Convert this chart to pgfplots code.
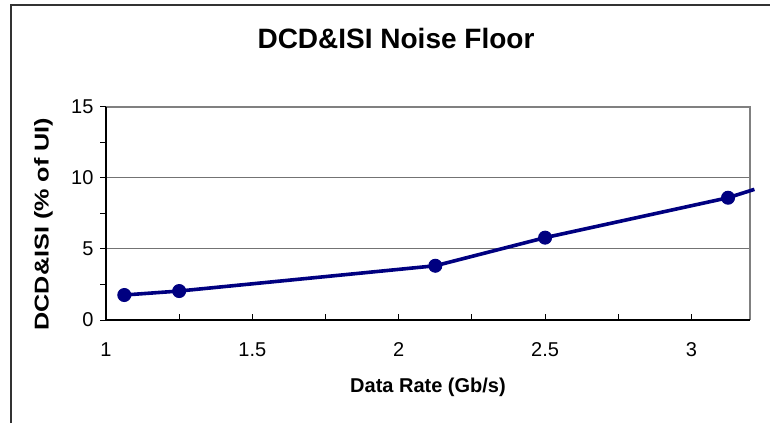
\documentclass[border=0pt]{standalone}
\usepackage{fontspec}
\setmainfont{Liberation Sans}
\usepackage{pgfplots}
\pgfplotsset{compat=1.18}
\begin{document}
\begin{tikzpicture}[x=1pt,y=1pt]
\useasboundingbox (0,0) rectangle (770,423);
\fill[white] (0,0) rectangle (770,423);
\draw[line width=1.8pt, color=black!80] (11,0) -- (11,418) -- (771,418);
\begin{axis}[
  at={(106pt,103pt)}, anchor=south west,
  width=644pt, height=213pt, scale only axis,
  xmin=1, xmax=3.2, ymin=0, ymax=15,
  xtick={1,1.5,2,2.5,3}, minor xtick={1.25,1.75,2.25,2.75},
  ytick={0,5,10,15}, minor ytick={2.5,7.5,12.5},
  ymajorgrids, grid style={black!55, line width=1pt},
  axis line style={draw=none},
  tick pos=left,
  major tick length=6pt, minor tick length=6pt,
  tick style={black, line width=1pt},
  y tick style={xshift=-6pt},
  /pgf/number format/assume math mode=true,
  tick label style={font=\fontsize{20}{24}\selectfont},
  xticklabel style={yshift=-19pt},
  yticklabel style={xshift=-9pt},
  title={DCD\&ISI Noise Floor},
  title style={at={(axis description cs:0.4503,1.293)}, anchor=center, font=\bfseries\fontsize{28}{32}\selectfont, inner sep=0pt},
  xlabel={Data Rate (Gb/s)},
  xlabel style={at={(axis description cs:0.5,-0.315)}, anchor=center, font=\bfseries\fontsize{20}{24}\selectfont, inner sep=0pt},
  ylabel={\scalebox{1.26}[1]{DCD\&ISI (\% of UI)}},
  ylabel style={at={(axis description cs:-0.097,0.45)}, anchor=center, rotate=0, font=\bfseries\fontsize{20}{24}\selectfont, inner sep=0pt},
  clip=false,
]
\draw[black!50, line width=2pt] (rel axis cs:0,1) -- (rel axis cs:1,1) -- (rel axis cs:1,0);
\draw[black, line width=1.5pt] (rel axis cs:0,1) -- (rel axis cs:0,0) -- (rel axis cs:1,0);
\addplot[color={rgb,255:red,0;green,0;blue,128}, line width=3.6pt, no marks] coordinates {
 (3.125,8.61) (3.215,9.2)
};
\addplot[color={rgb,255:red,0;green,0;blue,128}, line width=3.6pt, mark=*, mark size=6.5pt, mark options={solid, line width=1pt}] coordinates {
 (1.0625,1.76) (1.25,2.04) (2.125,3.82) (2.5,5.80) (3.125,8.61)
};
\end{axis}
\end{tikzpicture}
\end{document}
